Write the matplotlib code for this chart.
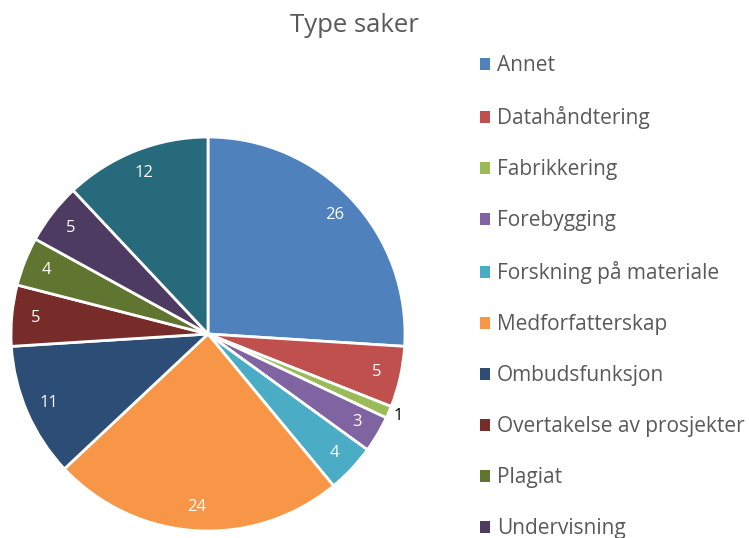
import matplotlib
matplotlib.use("Agg")
import numpy as np
import matplotlib.pyplot as plt
from matplotlib.patches import Patch

plt.rcParams['font.family'] = ['Open Sans', 'DejaVu Sans']

# Data
categories = ["Annet", "Datahåndtering", "Fabrikkering", "Forebygging",
              "Forskning på materiale", "Medforfatterskap", "Ombudsfunksjon",
              "Overtakelse av prosjekter", "Plagiat", "Undervisning", "Veiledning"]
values = [26, 5, 1, 3, 4, 24, 11, 5, 4, 5, 12]
colors = ["#4F81BD", "#C0504D", "#9BBB59", "#8064A2", "#4BACC6", "#F79646",
          "#2C4D75", "#772C2A", "#5F7530", "#4D3B62", "#276A7C"]

W, H = 749, 538
fig = plt.figure(figsize=(W / 100, H / 100), dpi=100)

# pie axes: centre (208, 334), radius 197 px
cx, cy, r = 208, 334, 197
ax = fig.add_axes([(cx - r) / W, (H - cy - r) / H, 2 * r / W, 2 * r / H])
wedges, _ = ax.pie(values, colors=colors, startangle=90, counterclock=False,
                   radius=1, wedgeprops=dict(edgecolor="white", linewidth=2))
ax.set_xlim(-1, 1)
ax.set_ylim(-1, 1)
ax.set_aspect("equal")
ax.axis("off")

# value labels
for w, v in zip(wedges, values):
    ang = np.deg2rad((w.theta1 + w.theta2) / 2)
    if v <= 1:
        d, col = 1.05, "black"
    else:
        d, col = 0.88, "white"
    ax.text(d * np.cos(ang), d * np.sin(ang), str(v), color=col,
            ha="center", va="center", fontsize=12)

fig.text(354 / W, 1 - 25 / H, "Type saker", ha="center", va="center",
         fontsize=18.5, color="#595959")

handles = [Patch(facecolor=c, edgecolor="none") for c in colors]
leg = fig.legend(handles, categories, loc="upper left",
                 bbox_to_anchor=(480 / W, 1 - 55 / H), frameon=False,
                 borderpad=0, borderaxespad=0, handlelength=0.5,
                 handleheight=0.5, handletextpad=0.3, labelspacing=1.44,
                 fontsize=15)
for t in leg.get_texts():
    t.set_color("#595959")

fig.savefig("out.png", dpi=100)
